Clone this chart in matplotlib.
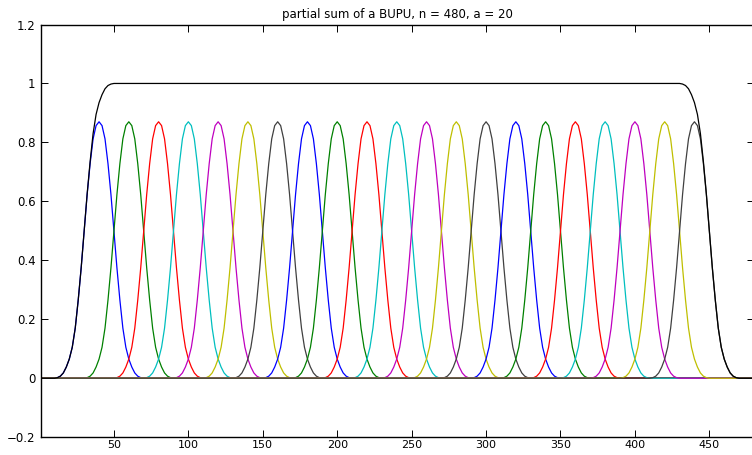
import numpy as np
import matplotlib.pyplot as plt

# ------------------------------------------------------------
# Data
# ------------------------------------------------------------
n = 480
centers = [40, 60, 80, 100, 120, 140, 160, 180, 200, 220, 240,
           260, 280, 300, 320, 340, 360, 380, 400, 420, 440]
# one bump, value at distance d from its centre (d = 0, 2, ..., 30)
bump_d = [0, 2, 4, 6, 8, 10, 12, 14, 16, 18, 20, 22, 24, 26, 28, 30]
bump_v = [0.870, 0.857, 0.812, 0.728, 0.623, 0.500, 0.375, 0.265,
          0.170, 0.105, 0.065, 0.038, 0.018, 0.007, 0.002, 0.0]
colors = [(0, 0, 1), (0, 0.5, 0), (1, 0, 0), (0, 0.75, 0.75),
          (0.75, 0, 0.75), (0.75, 0.75, 0), (0.25, 0.25, 0.25)]
yticks = [-0.2, 0, 0.2, 0.4, 0.6, 0.8, 1, 1.2]
yticklabels = ['\u22120.2', '0', '0.2', '0.4', '0.6', '0.8', '1', '1.2']
xticks = [50, 100, 150, 200, 250, 300, 350, 400, 450]

# ------------------------------------------------------------
# Build bumps on the even grid
# ------------------------------------------------------------
grid = np.arange(0, n + 1, 2)
half = dict(zip(bump_d, bump_v))


def Bump(c):
    y = np.zeros(len(grid))
    for i, x in enumerate(grid):
        d = abs(int(x) - c)
        if d in half:
            y[i] = half[d]
    return y


bumps = [Bump(c) for c in centers]
total = np.sum(bumps, axis=0)

# ------------------------------------------------------------
# Plot
# ------------------------------------------------------------
plt.rcParams['font.family'] = ['DejaVu Sans']
fig = plt.figure(figsize=(7.52, 4.55), dpi=100)
ax = fig.add_axes([41 / 752, 17.8 / 455, 713 / 752, 412.7 / 455])

for i, y in enumerate(bumps):
    ax.plot(grid, y, color=colors[i % len(colors)], lw=0.9)
ax.plot(grid, total, color='k', lw=0.9)

ax.set_xlim(1, n)
ax.set_ylim(-0.2, 1.2)
ax.set_xticks(xticks)
ax.set_xticklabels([str(t) for t in xticks])
ax.set_yticks(yticks)
ax.set_yticklabels(yticklabels)
ax.tick_params(direction='in', length=5, width=0.7,
               top=True, right=True)
ax.tick_params(axis='y', pad=4, labelsize=8.5)
ax.tick_params(axis='x', pad=2, labelsize=8)
for s in ax.spines.values():
    s.set_linewidth(1.0)

ax.set_title('partial sum of a BUPU, n = 480, a = 20', fontsize=8.5, pad=5)

fig.savefig('out.png', dpi=100)
